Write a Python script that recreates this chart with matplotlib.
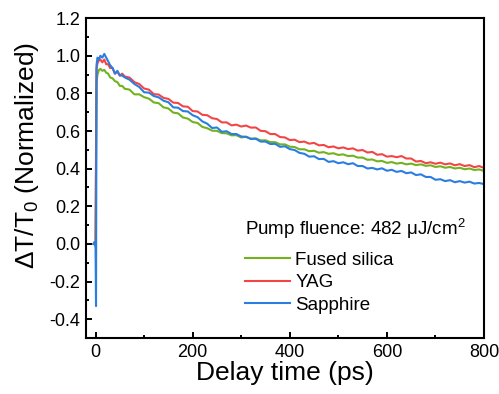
import matplotlib
matplotlib.use('Agg')
import matplotlib.pyplot as plt
from matplotlib.ticker import MultipleLocator

plt.rcParams['font.family'] = ['Liberation Sans', 'DejaVu Sans']
plt.rcParams['mathtext.fontset'] = 'custom'
plt.rcParams['mathtext.rm'] = 'Liberation Sans'
plt.rcParams['mathtext.it'] = 'Liberation Sans:italic'

# delay time (ps), shared by the three traces
delay = [-4, -2, 0, 1, 2, 4, 7, 10, 14, 18, 22, 26, 30, 35, 40, 45, 50, 55,
         60, 70, 80, 90, 100, 110, 120, 130, 140, 150, 160, 170, 180, 190,
         200, 210, 220, 230, 240, 250, 260, 270, 280, 290, 300, 310, 320,
         330, 340, 350, 360, 370, 380, 390, 400, 410, 420, 430, 440, 450,
         460, 470, 480, 490, 500, 510, 520, 530, 540, 550, 560, 570, 580,
         590, 600, 610, 620, 630, 640, 650, 660, 670, 680, 690, 700, 710,
         720, 730, 740, 750, 760, 770, 780, 790, 800]

fused_silica = [0.0, 0.01, 0.0, 0.40, 0.86, 0.90, 0.925, 0.93, 0.92, 0.925,
                0.91, 0.905, 0.885, 0.88, 0.865, 0.86, 0.84, 0.84, 0.825,
                0.82, 0.795, 0.795, 0.78, 0.772, 0.752, 0.748, 0.726, 0.72,
                0.698, 0.694, 0.672, 0.666, 0.648, 0.643, 0.622, 0.615,
                0.602, 0.601, 0.589, 0.588, 0.577, 0.578, 0.566, 0.57,
                0.559, 0.561, 0.55, 0.551, 0.541, 0.541, 0.529, 0.529,
                0.517, 0.515, 0.503, 0.503, 0.493, 0.495, 0.485, 0.488,
                0.479, 0.482, 0.473, 0.476, 0.467, 0.469, 0.459, 0.459,
                0.447, 0.449, 0.439, 0.441, 0.431, 0.435, 0.427, 0.431,
                0.423, 0.427, 0.419, 0.423, 0.415, 0.418, 0.409, 0.413,
                0.405, 0.409, 0.401, 0.405, 0.397, 0.401, 0.393, 0.396,
                0.388]

yag = [0.0, 0.0, 0.01, 0.50, 0.93, 0.96, 0.975, 0.98, 0.965, 0.98, 0.955,
       0.955, 0.935, 0.935, 0.905, 0.915, 0.895, 0.905, 0.89, 0.884, 0.86,
       0.85, 0.826, 0.82, 0.796, 0.794, 0.776, 0.771, 0.751, 0.749, 0.731,
       0.729, 0.706, 0.704, 0.686, 0.684, 0.668, 0.664, 0.646, 0.646, 0.63,
       0.634, 0.624, 0.629, 0.618, 0.619, 0.601, 0.599, 0.584, 0.584, 0.568,
       0.566, 0.552, 0.554, 0.541, 0.544, 0.533, 0.537, 0.524, 0.526, 0.514,
       0.518, 0.508, 0.513, 0.504, 0.508, 0.496, 0.499, 0.486, 0.489, 0.474,
       0.477, 0.464, 0.467, 0.461, 0.467, 0.454, 0.454, 0.438, 0.441, 0.429,
       0.434, 0.426, 0.432, 0.423, 0.428, 0.418, 0.424, 0.414, 0.419, 0.408,
       0.414, 0.404]

sapphire = [0.0, 0.01, -0.02, -0.33, 0.95, 0.99, 0.98, 1.0, 0.99, 1.01,
            0.99, 0.97, 0.95, 0.935, 0.905, 0.92, 0.895, 0.895, 0.885,
            0.873, 0.85, 0.834, 0.806, 0.804, 0.786, 0.779, 0.761, 0.753,
            0.726, 0.724, 0.706, 0.704, 0.684, 0.674, 0.651, 0.639, 0.616,
            0.619, 0.596, 0.599, 0.584, 0.584, 0.571, 0.569, 0.558, 0.559,
            0.544, 0.544, 0.531, 0.532, 0.516, 0.519, 0.504, 0.499, 0.484,
            0.479, 0.464, 0.466, 0.451, 0.452, 0.436, 0.44, 0.429, 0.434,
            0.424, 0.429, 0.414, 0.414, 0.401, 0.404, 0.396, 0.402, 0.389,
            0.394, 0.383, 0.388, 0.376, 0.38, 0.366, 0.37, 0.356, 0.356,
            0.341, 0.344, 0.334, 0.339, 0.328, 0.334, 0.326, 0.331, 0.321,
            0.324, 0.318]

fig = plt.figure(figsize=(4.99, 3.94), dpi=100)
ax = fig.add_axes([0.172, 0.142, 0.798, 0.812])

ax.plot(delay, fused_silica, color='#72b21f', lw=1.5, label='Fused silica')
ax.plot(delay, yag, color='#f24646', lw=1.5, label='YAG')
ax.plot(delay, sapphire, color='#2a7de1', lw=1.5, label='Sapphire')

ax.set_xlim(-20, 800)
ax.set_ylim(-0.5, 1.2)
ax.xaxis.set_major_locator(MultipleLocator(200))
ax.xaxis.set_minor_locator(MultipleLocator(100))
ax.yaxis.set_major_locator(MultipleLocator(0.2))
ax.yaxis.set_minor_locator(MultipleLocator(0.1))
ax.yaxis.set_major_formatter(plt.FuncFormatter(lambda v, p: f'{v:.1f}'))
ax.tick_params(which='both', direction='in', labelsize=13, width=1.4,
               top=False, right=False)
ax.tick_params(which='major', length=4, pad=4)
ax.tick_params(which='minor', length=2.5)
for s in ax.spines.values():
    s.set_linewidth(1.5)

ax.set_xlabel('Delay time (ps)', fontsize=19, labelpad=0)
ax.set_ylabel('ΔT/T$_{\\mathrm{0}}$ (Normalized)', fontsize=19)
ax.yaxis.set_label_coords(-0.112, 0.57)

ax.text(0.4, 0.323, 'Pump fluence: 482 μJ/cm$^{\\mathrm{2}}$', transform=ax.transAxes,
        fontsize=13.5, ha='left', va='baseline')
ax.legend(loc='lower left', bbox_to_anchor=(0.4, 0.075), frameon=False,
          fontsize=13.5, handlelength=2.4, handletextpad=0.27,
          labelspacing=0.3, borderpad=0, borderaxespad=0)

fig.savefig('out.png', dpi=100)
